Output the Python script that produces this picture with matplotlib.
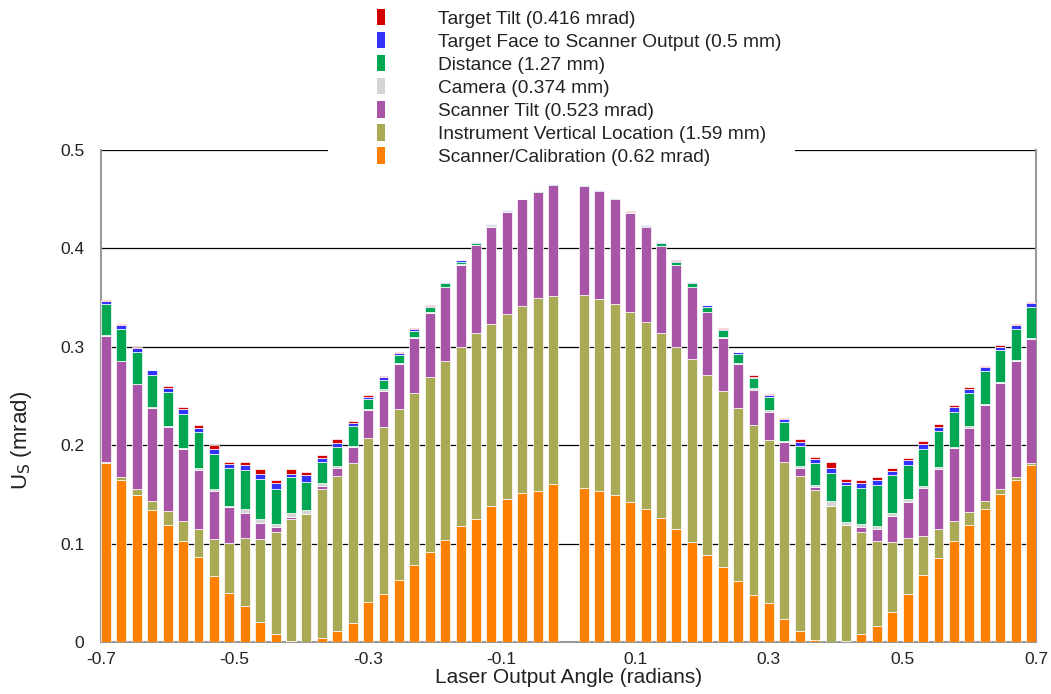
import numpy as np
import matplotlib
matplotlib.use("Agg")
import matplotlib.pyplot as plt
from matplotlib.patches import Rectangle

plt.rcParams['font.family'] = ['Liberation Sans', 'DejaVu Sans']

# 61 angle slots from -0.7 to 0.7 rad, the centre one (0) has no bar
angles = [a for a in np.round(np.linspace(-0.7, 0.7, 61), 4) if a != 0]

# stacked contributions (mrad), bottom to top
scanner_cal = [
    .182, .165, .1498, .1346, .119, .1024, .0864, .0668, .0501, .0362,
    .0203, .0085, .001, 0, .0044, .0115, .019, .0403, .0488, .063,
    .0783, .0911, .1037, .1182, .125, .1382, .145, .1511, .1538, .1606,
    .1568, .1535, .1494, .1423, .1348, .1257, .1145, .102, .0884, .0759,
    .0623, .0478, .04, .0234, .0108, .002, 0, .001, .0081, .0163,
    .0308, .0488, .0681, .085, .1026, .1189, .1348, .1504, .1646, .1799]
instr_vert = [
    .0007, .003, .0052, .0084, .0146, .0203, .0285, .0382, .0502, .07,
    .084, .103, .1245, .130, .1511, .1572, .1632, .1667, .17, .1738,
    .1751, .1779, .1822, .1819, .1887, .1846, .1883, .1904, .1955, .191,
    .1958, .1954, .1944, .1934, .1907, .188, .1856, .1856, .1829, .1795,
    .1758, .1727, .1653, .1599, .1579, .1525, .1382, .1179, .1034, .0867,
    .0712, .0572, .0395, .0295, .0207, .0136, .0088, .0051, .0027, .0017]
scanner_tilt = [
    .1283, .1174, .1067, .095, .085, .0736, .0604, .0486, .0367, .0249,
    .0166, .0054, .0019, 0, .0034, .0078, .0156, .0288, .0363, .0454,
    .0559, .0657, .0745, .0834, .0894, .0993, .104, .1084, .1084, .1132,
    .1112, .1094, .1067, .1006, .0959, .0887, .083, .0728, .0637, .0539,
    .0444, .0356, .0288, .0203, .0085, .0034, 0, 0, .0054, .0122,
    .026, .0366, .0492, .0613, .0735, .0853, .0973, .1074, .1183, .1263]
camera = [
    .0007, .0006, .0007, .0007, .0014, .0013, .0017, .002, .0013, .0041,
    .0044, .0029, .0041, .0038, .0023, .0024, .0014, .0013, .0017, .0017,
    .001, .001, .0007, .0006, .0005, .0003, .0002, .0001, .0001, 0,
    0, .0001, .0001, .0002, .0002, .0004, .0004, .0004, .0005, .001,
    .0014, .0017, .0017, .001, .002, .002, .0048, .0034, .003, .003,
    .0028, .0024, .0017, .0017, .0017, .0014, .0013, .0013, .001, .0007]
distance = [
    .0313, .0316, .0322, .0325, .034, .0346, .0362, .0359, .0382, .0396,
    .0407, .0359, .0358, .0292, .0221, .0196, .0206, .0095, .0095, .0078,
    .0057, .0044, .0034, .0024, .0015, .0014, .0008, .0003, .0002, .0001,
    .0002, .0003, .0004, .0005, .0012, .0023, .003, .0037, .0053, .0068,
    .0088, .0102, .0135, .019, .02, .0223, .0291, .0373, .0363, .041,
    .0389, .0349, .038, .0373, .0356, .0342, .0335, .0325, .0315, .0322]
face_to_scanner = [
    .0035, .0044, .0044, .0048, .0043, .0047, .0044, .0048, .0041, .0046,
    .0046, .0055, .0037, .0064, .0034, .0041, .0031, .0027, .0027, .002,
    .0018, .0017, .001, .0014, .0011, .0007, .0005, .0002, .0002, .0001,
    .0002, .0003, .0003, .0003, .0005, .0011, .001, .001, .0013, .0013,
    .0017, .0016, .0017, .0027, .0041, .0034, .0044, .0027, .005, .0054,
    .0041, .0051, .0047, .004, .0044, .0037, .0038, .0034, .0041, .0034]
target_tilt = [
    .0007, .0007, .001, .0006, .0014, .0021, .0034, .0034, .0024, .0038,
    .0053, .0034, .005, .0034, .003, .0034, .002, .0017, .0013, .0014,
    .001, .0007, .0007, .0003, .0003, .0002, .0002, .0001, .0001, 0,
    .0001, .0001, .0001, .0002, .0002, .0003, .0004, .0004, .0007, .0007,
    .0007, .0014, .001, .0017, .0027, .0027, .0061, .003, .0038, .0027,
    .003, .0023, .0031, .0024, .002, .0017, .0013, .0014, .001, .001]

series = [
    ("Scanner/Calibration (0.62 mrad)", scanner_cal, "#ff8000"),
    ("Instrument Vertical Location (1.59 mm)", instr_vert, "#a9a956"),
    ("Scanner Tilt (0.523 mrad)", scanner_tilt, "#a855a8"),
    ("Camera (0.374 mm)", camera, "#d4d4d4"),
    ("Distance (1.27 mm)", distance, "#00a651"),
    ("Target Face to Scanner Output (0.5 mm)", face_to_scanner, "#3333ff"),
    ("Target Tilt (0.416 mrad)", target_tilt, "#d40000"),
]

fig = plt.figure(figsize=(10.51, 6.94), dpi=100)
ax = fig.add_axes([0.0961, 0.0749, 0.8896, 0.709])

width = 0.0148
# outer bars sit flush with the axis edges, as in the original
xpos = np.array(angles) * (0.7 - width / 2) / 0.7
bottom = np.zeros(len(angles))
handles = []
for label, vals, color in series:
    ax.bar(xpos, vals, width=width, bottom=bottom, color=color,
           edgecolor="white", linewidth=0.5, zorder=3)
    bottom += np.array(vals)
    handles.append(Rectangle((0, 0), 1, 1, facecolor=color, edgecolor="none", label=label))

ax.set_xlim(-0.7, 0.7)
ax.set_ylim(0, 0.5)
ax.set_xticks([-0.7, -0.5, -0.3, -0.1, 0.1, 0.3, 0.5, 0.7])
ax.set_xticklabels(["-0.7", "-0.5", "-0.3", "-0.1", "0.1", "0.3", "0.5", "0.7"])
ax.set_yticks([0, 0.1, 0.2, 0.3, 0.4, 0.5])
ax.set_yticklabels(["0", "0.1", "0.2", "0.3", "0.4", "0.5"])
ax.tick_params(length=0, labelsize=12.5, colors="#222222")
ax.tick_params(axis="x", pad=7)
ax.tick_params(axis="y", pad=12)
ax.yaxis.grid(True, color="black", linewidth=0.9, zorder=1)
ax.set_axisbelow(True)
for side in ["left", "right", "bottom"]:
    ax.spines[side].set_color("#999999")
    ax.spines[side].set_linewidth(1.5)
ax.spines["top"].set_visible(False)

ax.set_xlabel("Laser Output Angle (radians)", fontsize=15, color="#222222", labelpad=1)
ax.set_ylabel("U$_\\mathrm{S}$ (mrad)", fontsize=16, color="#222222")
ax.yaxis.set_label_coords(-0.072, 0.41)

# white backing of the legend, it hides the middle of the 0.5 line
fig.patches.append(Rectangle((328 / 1051, 1 - 165 / 694), (795 - 328) / 1051, 165 / 694,
                             transform=fig.transFigure, facecolor="white",
                             edgecolor="none", zorder=5))

leg = fig.legend(handles=handles[::-1], loc="upper left",
                 bbox_to_anchor=(370 / 1051, 1 - 2 / 694), fontsize=13.8,
                 frameon=False,
                 handlelength=0.42, handleheight=0.95, handletextpad=2.8,
                 labelspacing=0.22, borderpad=0.35, borderaxespad=0.0)
leg.set_zorder(10)
for t in leg.get_texts():
    t.set_color("#222222")

fig.savefig("out.png", dpi=100)
